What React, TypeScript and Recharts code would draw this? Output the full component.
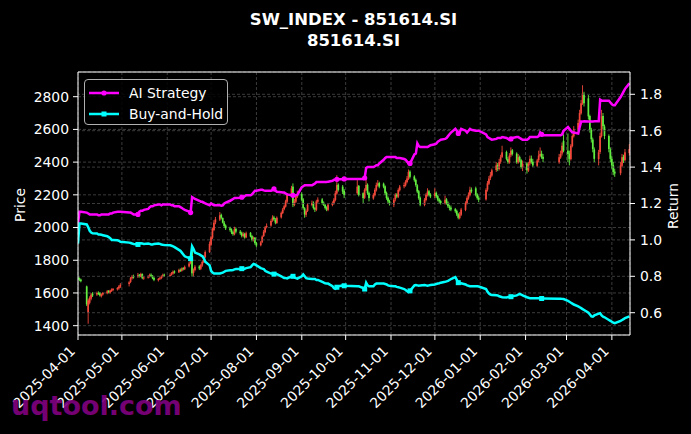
import React from 'react';
import {
  ComposedChart,
  Bar,
  Line,
  XAxis,
  YAxis,
  CartesianGrid,
  Legend,
  ReferenceLine,
} from 'recharts';

// ---------- data ----------
const tradingDays: [string, number[]][] = [
  ['2025-04', [1, 2, 3, 7, 8, 9, 10, 11, 14, 15, 16, 17, 18, 21, 22, 23, 24, 25, 28, 29, 30]],
  ['2025-05', [6, 7, 8, 9, 12, 13, 14, 15, 16, 19, 20, 21, 22, 23, 26, 27, 28, 29, 30]],
  ['2025-06', [3, 4, 5, 6, 9, 10, 11, 12, 13, 16, 17, 18, 19, 20, 23, 24, 25, 26, 27, 30]],
  ['2025-07', [1, 2, 3, 4, 7, 8, 9, 10, 11, 14, 15, 16, 17, 18, 21, 22, 23, 24, 25, 28, 29, 30, 31]],
  ['2025-08', [1, 4, 5, 6, 7, 8, 11, 12, 13, 14, 15, 18, 19, 20, 21, 22, 25, 26, 27, 28, 29]],
  ['2025-09', [1, 2, 3, 4, 5, 8, 9, 10, 11, 12, 15, 16, 17, 18, 19, 22, 23, 24, 25, 26, 29, 30]],
  ['2025-10', [9, 10, 13, 14, 15, 16, 17, 20, 21, 22, 23, 24, 27, 28, 29, 30, 31]],
  ['2025-11', [3, 4, 5, 6, 7, 10, 11, 12, 13, 14, 17, 18, 19, 20, 21, 24, 25, 26, 27, 28]],
  ['2025-12', [1, 2, 3, 4, 5, 8, 9, 10, 11, 12, 15, 16, 17, 18, 19, 22, 23, 24, 25, 26, 29, 30, 31]],
  ['2026-01', [5, 6, 7, 8, 9, 12, 13, 14, 15, 16, 19, 20, 21, 22, 23, 26, 27, 28, 29, 30]],
  ['2026-02', [2, 3, 4, 5, 6, 9, 10, 11, 12, 13, 24, 25, 26, 27]],
  ['2026-03', [2, 3, 4, 5, 6, 9, 10, 11, 12, 13, 16, 17, 18, 19, 20, 23, 24, 25, 26, 27, 30, 31]],
  ['2026-04', [1, 2, 3, 7, 8, 9, 10, 13]],
];

const monthTicks = [
  '2025-04-01', '2025-05-01', '2025-06-01', '2025-07-01', '2025-08-01', '2025-09-01', '2025-10-01',
  '2025-11-01', '2025-12-01', '2026-01-01', '2026-02-01', '2026-03-01', '2026-04-01',
];
const priceTicks = [1400, 1600, 1800, 2000, 2200, 2400, 2600, 2800];
const returnTicks = [0.6, 0.8, 1.0, 1.2, 1.4, 1.6, 1.8];

const openPrices = [
  1690, 1688, 1682, 1640, 1480, 1540, 1565, 1595, 1590, 1600, 1598, 1580, 1590, 1598, 1612, 1602, 1612, 1618, 1622, 1628, 1638,
  1655, 1668, 1690, 1702, 1698, 1712, 1700, 1716, 1688, 1696, 1700, 1712, 1706, 1692, 1678, 1686, 1690, 1700, 1712,
  1706, 1712, 1718, 1732, 1726, 1742, 1735, 1752, 1745, 1762, 1782, 1860, 1722, 1740, 1762, 1748, 1768, 1790, 1818, 1850,
  1895, 1938, 1985, 2032, 2048, 2078, 2058, 2030, 2012, 1995, 1988, 1972, 1958, 1992, 1975, 1968, 1948, 1962, 1940, 1968, 1948, 1922, 1938,
  1905, 1892, 1912, 1948, 1972, 2002, 2012, 2042, 2062, 2048, 2028, 2062, 2088, 2112, 2128, 2158, 2198, 2250, 2138, 2158, 2188,
  2205, 2172, 2118, 2078, 2102, 2138, 2152, 2118, 2108, 2158, 2172, 2152, 2138, 2122, 2108, 2138, 2148, 2168, 2208, 2262, 2250, 2225,
  2210, 2255, 2210, 2182, 2228, 2262, 2212, 2178, 2198, 2228, 2258, 2272, 2268, 2252, 2212, 2182, 2162,
  2140, 2172, 2202, 2188, 2228, 2252, 2258, 2278, 2298, 2342, 2312, 2292, 2258, 2222, 2182, 2138, 2168, 2198, 2222, 2202,
  2192, 2212, 2192, 2172, 2162, 2148, 2172, 2152, 2128, 2122, 2112, 2102, 2082, 2058, 2078, 2108, 2148, 2178, 2198, 2232, 2240, 2202, 2182,
  2172, 2232, 2268, 2302, 2318, 2352, 2382, 2358, 2402, 2432, 2462, 2418, 2398, 2442, 2472, 2452, 2398, 2432, 2412, 2368,
  2392, 2348, 2392, 2422, 2402, 2378, 2412, 2438, 2452, 2432, 2400, 2428, 2452, 2530,
  2470, 2452, 2418, 2498, 2558, 2598, 2642, 2698, 2758, 2818, 2790, 2682, 2598, 2538, 2478, 2418, 2462, 2558, 2682, 2618, 2560, 2478,
  2420, 2382, 2342, 2332, 2378, 2432, 2412, 2455,
];
const highPrices = [
  1700, 1695, 1688, 1645, 1565, 1580, 1600, 1605, 1608, 1610, 1605, 1598, 1606, 1618, 1618, 1620, 1628, 1630, 1636, 1648, 1660,
  1672, 1698, 1710, 1712, 1722, 1716, 1724, 1720, 1702, 1708, 1718, 1720, 1710, 1698, 1692, 1698, 1708, 1718, 1718,
  1720, 1728, 1738, 1738, 1748, 1750, 1756, 1758, 1768, 1790, 1820, 1890, 1750, 1770, 1770, 1778, 1800, 1830, 1860, 1915,
  1950, 2000, 2045, 2065, 2095, 2085, 2062, 2040, 2020, 2005, 1995, 1980, 2005, 2000, 1985, 1975, 1972, 1968, 1975, 1972, 1955, 1945, 1942,
  1912, 1918, 1952, 1985, 2010, 2025, 2050, 2075, 2072, 2058, 2068, 2098, 2120, 2140, 2170, 2210, 2255, 2270, 2175, 2205, 2225,
  2215, 2180, 2125, 2110, 2150, 2165, 2160, 2125, 2170, 2185, 2180, 2160, 2145, 2130, 2150, 2160, 2180, 2225, 2320, 2270, 2260, 2235,
  2290, 2260, 2215, 2240, 2290, 2270, 2220, 2210, 2240, 2275, 2290, 2280, 2275, 2258, 2220, 2190, 2170,
  2180, 2210, 2210, 2240, 2260, 2275, 2290, 2315, 2355, 2350, 2320, 2300, 2265, 2230, 2190, 2180, 2210, 2240, 2230, 2210,
  2240, 2220, 2200, 2180, 2170, 2195, 2180, 2160, 2140, 2135, 2120, 2110, 2090, 2095, 2120, 2160, 2190, 2215, 2250, 2245, 2250, 2210, 2195,
  2240, 2285, 2315, 2340, 2360, 2400, 2395, 2420, 2445, 2500, 2470, 2430, 2455, 2490, 2480, 2460, 2450, 2440, 2420, 2410,
  2400, 2400, 2440, 2440, 2420, 2420, 2470, 2490, 2470, 2450, 2450, 2470, 2520, 2570,
  2575, 2470, 2510, 2570, 2620, 2660, 2720, 2780, 2870, 2830, 2810, 2690, 2610, 2550, 2490, 2475, 2580, 2720, 2700, 2630, 2570, 2490,
  2440, 2400, 2360, 2400, 2450, 2445, 2480, 2510,
];
const lowPrices = [
  1680, 1672, 1665, 1520, 1412, 1530, 1555, 1575, 1582, 1588, 1578, 1572, 1584, 1592, 1598, 1596, 1606, 1610, 1615, 1620, 1630,
  1640, 1660, 1682, 1688, 1692, 1694, 1696, 1684, 1680, 1688, 1694, 1698, 1684, 1672, 1670, 1680, 1684, 1694, 1698,
  1700, 1706, 1712, 1718, 1722, 1728, 1730, 1738, 1740, 1756, 1775, 1700, 1700, 1732, 1740, 1740, 1760, 1782, 1812, 1845,
  1885, 1930, 1978, 2020, 2040, 2050, 2025, 2000, 1985, 1975, 1960, 1950, 1952, 1965, 1955, 1940, 1940, 1932, 1935, 1940, 1915, 1915, 1895,
  1880, 1885, 1905, 1942, 1965, 1995, 2005, 2035, 2042, 2020, 2022, 2055, 2082, 2105, 2122, 2150, 2190, 2125, 2130, 2150, 2180,
  2160, 2110, 2060, 2065, 2095, 2130, 2110, 2095, 2100, 2150, 2140, 2132, 2110, 2100, 2100, 2130, 2140, 2160, 2200, 2220, 2205, 2180,
  2200, 2190, 2150, 2175, 2222, 2200, 2160, 2170, 2190, 2220, 2250, 2240, 2240, 2200, 2170, 2145, 2135,
  2125, 2160, 2180, 2180, 2220, 2240, 2250, 2270, 2290, 2300, 2280, 2250, 2210, 2170, 2130, 2130, 2160, 2190, 2190, 2180,
  2180, 2180, 2160, 2150, 2140, 2140, 2140, 2120, 2105, 2100, 2090, 2070, 2050, 2050, 2070, 2100, 2140, 2170, 2190, 2210, 2190, 2170, 2155,
  2165, 2220, 2260, 2290, 2310, 2340, 2345, 2350, 2390, 2425, 2410, 2390, 2390, 2430, 2440, 2390, 2390, 2400, 2360, 2345,
  2330, 2340, 2380, 2390, 2370, 2370, 2400, 2430, 2420, 2400, 2390, 2420, 2440, 2460,
  2400, 2380, 2410, 2490, 2550, 2590, 2630, 2690, 2750, 2740, 2660, 2580, 2520, 2460, 2400, 2380, 2450, 2550, 2600, 2540, 2460, 2400,
  2360, 2320, 2310, 2320, 2370, 2395, 2405, 2440,
];
const closePrices = [
  1688, 1684, 1672, 1530, 1555, 1570, 1590, 1585, 1600, 1595, 1585, 1592, 1600, 1610, 1605, 1615, 1620, 1625, 1630, 1640, 1650,
  1665, 1690, 1700, 1695, 1710, 1700, 1715, 1690, 1695, 1700, 1710, 1705, 1690, 1680, 1685, 1690, 1700, 1710, 1705,
  1710, 1720, 1730, 1725, 1740, 1735, 1750, 1745, 1760, 1780, 1800, 1720, 1740, 1760, 1750, 1770, 1790, 1820, 1850, 1900,
  1940, 1990, 2030, 2050, 2075, 2060, 2030, 2010, 1995, 1985, 1970, 1960, 1990, 1975, 1965, 1950, 1960, 1940, 1965, 1945, 1925, 1935, 1905,
  1890, 1910, 1945, 1975, 2000, 2010, 2040, 2060, 2050, 2030, 2060, 2090, 2110, 2130, 2160, 2200, 2240, 2140, 2160, 2190, 2200,
  2170, 2120, 2080, 2100, 2140, 2150, 2120, 2110, 2160, 2170, 2150, 2140, 2120, 2110, 2140, 2150, 2170, 2210, 2260, 2230, 2220, 2200,
  2250, 2200, 2180, 2230, 2260, 2210, 2180, 2200, 2230, 2260, 2270, 2250, 2250, 2210, 2180, 2160, 2150,
  2170, 2200, 2190, 2230, 2250, 2260, 2280, 2300, 2340, 2310, 2290, 2260, 2220, 2180, 2140, 2170, 2200, 2220, 2200, 2190,
  2210, 2190, 2170, 2160, 2150, 2170, 2150, 2130, 2120, 2110, 2100, 2080, 2060, 2080, 2110, 2150, 2180, 2200, 2230, 2220, 2200, 2180, 2170,
  2230, 2270, 2300, 2320, 2350, 2380, 2360, 2400, 2430, 2460, 2420, 2400, 2440, 2470, 2450, 2400, 2430, 2410, 2370, 2390,
  2350, 2390, 2420, 2400, 2380, 2410, 2440, 2450, 2430, 2420, 2430, 2450, 2500, 2470,
  2450, 2420, 2500, 2560, 2600, 2640, 2700, 2760, 2820, 2760, 2680, 2600, 2540, 2480, 2420, 2460, 2560, 2680, 2620, 2560, 2480, 2420,
  2380, 2340, 2330, 2380, 2430, 2410, 2460, 2480,
];
const aiReturn = [
  1.09, 1.155, 1.155, 1.15, 1.145, 1.14, 1.14, 1.14, 1.14, 1.135, 1.135, 1.14, 1.14, 1.14, 1.14, 1.145, 1.145, 1.15, 1.155, 1.155, 1.155,
  1.15, 1.15, 1.145, 1.14, 1.14, 1.155, 1.16, 1.16, 1.165, 1.17, 1.18, 1.185, 1.185, 1.19, 1.195, 1.195, 1.19, 1.195, 1.195,
  1.195, 1.19, 1.19, 1.185, 1.185, 1.18, 1.175, 1.17, 1.165, 1.155, 1.15, 1.235, 1.23, 1.225, 1.215, 1.21, 1.21, 1.205, 1.2, 1.19,
  1.2, 1.195, 1.19, 1.19, 1.19, 1.188, 1.19, 1.2, 1.205, 1.215, 1.22, 1.225, 1.23, 1.23, 1.232, 1.235, 1.235, 1.24, 1.245, 1.245, 1.25, 1.26, 1.27,
  1.27, 1.275, 1.275, 1.272, 1.27, 1.27, 1.27, 1.275, 1.28, 1.27, 1.265, 1.262, 1.26, 1.26, 1.255, 1.25, 1.245, 1.245, 1.245, 1.245, 1.248,
  1.29, 1.295, 1.3, 1.3, 1.3, 1.3, 1.305, 1.31, 1.318, 1.318, 1.318, 1.318, 1.318, 1.318, 1.32, 1.325, 1.33, 1.33, 1.333, 1.333, 1.333, 1.335,
  1.335, 1.335, 1.335, 1.34, 1.395, 1.4, 1.4, 1.4, 1.405, 1.41, 1.41, 1.42, 1.44, 1.45, 1.455, 1.455, 1.455,
  1.455, 1.455, 1.45, 1.45, 1.45, 1.445, 1.44, 1.43, 1.42, 1.42, 1.47, 1.475, 1.53, 1.515, 1.51, 1.51, 1.51, 1.51, 1.515, 1.52,
  1.525, 1.53, 1.54, 1.545, 1.55, 1.555, 1.56, 1.57, 1.58, 1.59, 1.61, 1.6, 1.585, 1.59, 1.61, 1.6, 1.59, 1.6, 1.61, 1.605, 1.6, 1.6, 1.6,
  1.58, 1.565, 1.56, 1.555, 1.55, 1.555, 1.56, 1.56, 1.56, 1.565, 1.56, 1.555, 1.55, 1.555, 1.56, 1.565, 1.565, 1.56, 1.555, 1.55,
  1.55, 1.555, 1.565, 1.565, 1.565, 1.565, 1.57, 1.59, 1.58, 1.575, 1.575, 1.575, 1.58, 1.6,
  1.62, 1.61, 1.6, 1.59, 1.59, 1.585, 1.62, 1.65, 1.65, 1.652, 1.65, 1.65, 1.65, 1.65, 1.652, 1.652, 1.77, 1.765, 1.765, 1.765, 1.765, 1.755,
  1.745, 1.74, 1.74, 1.785, 1.8, 1.815, 1.83, 1.86,
];
const bhReturn = [
  0.98, 1.09, 1.09, 1.085, 1.07, 1.05, 1.04, 1.036, 1.035, 1.03, 1.03, 1.028, 1.026, 1.02, 1.015, 1.01, 1.0, 1.0, 0.998, 0.995, 0.99,
  0.985, 0.983, 0.98, 0.978, 0.975, 0.98, 0.982, 0.98, 0.978, 0.98, 0.978, 0.975, 0.975, 0.978, 0.98, 0.978, 0.975, 0.973, 0.972,
  0.97, 0.968, 0.965, 0.96, 0.945, 0.94, 0.93, 0.92, 0.91, 0.9, 0.897, 0.965, 0.95, 0.93, 0.92, 0.915, 0.91, 0.9, 0.88, 0.86,
  0.83, 0.82, 0.815, 0.815, 0.815, 0.818, 0.82, 0.825, 0.83, 0.833, 0.833, 0.835, 0.838, 0.84, 0.84, 0.842, 0.842, 0.842, 0.845, 0.85, 0.86, 0.868, 0.865,
  0.86, 0.845, 0.842, 0.84, 0.83, 0.825, 0.815, 0.815, 0.812, 0.815, 0.812, 0.8, 0.795, 0.79, 0.79, 0.788, 0.8, 0.8, 0.795, 0.79, 0.787,
  0.8, 0.81, 0.8, 0.79, 0.788, 0.785, 0.785, 0.785, 0.78, 0.78, 0.77, 0.765, 0.762, 0.76, 0.76, 0.745, 0.735, 0.732, 0.74, 0.745, 0.75, 0.748,
  0.745, 0.745, 0.735, 0.73, 0.765, 0.75, 0.745, 0.745, 0.755, 0.76, 0.76, 0.76, 0.76, 0.758, 0.755, 0.75, 0.748,
  0.745, 0.745, 0.742, 0.74, 0.738, 0.73, 0.725, 0.718, 0.714, 0.72, 0.75, 0.752, 0.75, 0.748, 0.75, 0.752, 0.75, 0.748, 0.75, 0.752,
  0.755, 0.758, 0.76, 0.762, 0.765, 0.77, 0.772, 0.775, 0.78, 0.785, 0.795, 0.78, 0.765, 0.76, 0.762, 0.755, 0.75, 0.748, 0.745, 0.745, 0.745, 0.745, 0.744,
  0.73, 0.715, 0.705, 0.7, 0.697, 0.696, 0.695, 0.69, 0.688, 0.685, 0.684, 0.686, 0.686, 0.688, 0.69, 0.695, 0.7, 0.703, 0.7, 0.695,
  0.685, 0.682, 0.68, 0.68, 0.68, 0.68, 0.68, 0.678, 0.678, 0.678, 0.677, 0.677, 0.676, 0.675,
  0.665, 0.66, 0.655, 0.65, 0.645, 0.635, 0.63, 0.625, 0.62, 0.615, 0.6, 0.59, 0.58, 0.578, 0.585, 0.595, 0.597, 0.585, 0.578, 0.575, 0.56, 0.555,
  0.55, 0.545, 0.542, 0.555, 0.56, 0.565, 0.57, 0.58,
];
const tradeDates = [
  '2025-05-12', '2025-06-17', '2025-07-22', '2025-08-13', '2025-08-26', '2025-09-25',
  '2025-09-30', '2025-10-14', '2025-11-14', '2025-12-17', '2026-01-22', '2026-02-12',
];

// ---------- helpers ----------
const START = Date.UTC(2025, 3, 1);
const dayNum = (s: string) => (Date.parse(s + 'T00:00:00Z') - START) / 86400000;
const pad = (d: number) => (d < 10 ? '0' + d : String(d));

const dates = tradingDays.flatMap(([m, ds]) => ds.map((d) => `${m}-${pad(d)}`));
const count = Math.min(
  dates.length, openPrices.length, highPrices.length, lowPrices.length,
  closePrices.length, aiReturn.length, bhReturn.length,
);
const tradeSet = new Set(tradeDates);

const data = dates.slice(0, count).map((date, i) => {
  const o = openPrices[i];
  const c = closePrices[i];
  const h = Math.max(highPrices[i], o, c);
  const l = Math.min(lowPrices[i], o, c);
  return { t: dayNum(date), date, open: o, high: h, low: l, close: c, ai: aiReturn[i], bh: bhReturn[i] };
});

const monthTickNums = monthTicks.map(dayNum);
const tickLabelByNum: Record<string, string> = {};
monthTicks.forEach((s) => {
  tickLabelByNum[String(dayNum(s))] = s;
});

const FONT = "'DejaVu Sans', sans-serif";
const UP = '#f2483a';
const DOWN = '#62ee40';
const AI_COLOR = '#ff00ff';
const BH_COLOR = '#00ffff';

const Candle = (props: any) => {
  const { x, y, width, height, payload } = props;
  if (!payload || !isFinite(x) || !isFinite(y) || !isFinite(height)) return <g />;
  const { open, close, high, low } = payload;
  const top = Math.min(y, y + height);
  const h = Math.abs(height);
  const span = high - low || 1;
  const py = (v: number) => top + ((high - v) / span) * h;
  const cx = x + width / 2;
  const color = close >= open ? UP : DOWN;
  const bTop = py(Math.max(open, close));
  const bBot = py(Math.min(open, close));
  return (
    <g>
      <line x1={cx} x2={cx} y1={top} y2={top + h} stroke={color} strokeWidth={0.9} />
      <rect x={cx - 0.85} y={bTop} width={1.7} height={Math.max(bBot - bTop, 1)} fill={color} />
    </g>
  );
};

const aiDot = (props: any) => {
  const { cx, cy, payload, index } = props;
  if (!payload || !tradeSet.has(payload.date)) return <g key={`a${index}`} />;
  return <circle key={`a${index}`} cx={cx} cy={cy} r={2.6} fill={AI_COLOR} />;
};
const bhDot = (props: any) => {
  const { cx, cy, payload, index } = props;
  if (!payload || !tradeSet.has(payload.date)) return <g key={`b${index}`} />;
  return <rect key={`b${index}`} x={cx - 2.5} y={cy - 2.5} width={5} height={5} fill={BH_COLOR} />;
};

const DateTick = (props: any) => {
  const { x, y, payload } = props;
  const label = tickLabelByNum[String(payload.value)] ?? '';
  const tx = x - 2;
  const ty = y + 10;
  return (
    <text
      x={tx}
      y={ty}
      transform={`rotate(-45, ${tx}, ${ty})`}
      textAnchor="end"
      fill="#ffffff"
      fontSize={13.9}
      fontFamily={FONT}
    >
      {label}
    </text>
  );
};

const LegendBox = (props: any) => {
  const items = (props.payload || []).filter((p: any) => p.value);
  return (
    <div
      style={{
        width: 144,
        height: 46,
        border: '1px solid #b0b0b0',
        borderRadius: 4,
        background: 'rgba(0,0,0,0.85)',
        boxSizing: 'border-box',
        fontFamily: FONT,
        fontSize: 13.9,
        color: '#fff',
        paddingTop: 3,
      }}
    >
      {items.map((it: any, i: number) => (
        <div key={i} style={{ display: 'flex', alignItems: 'center', height: 20.5 }}>
          <svg width={44} height={12} style={{ flex: 'none' }}>
            <line x1={4} x2={34} y1={6} y2={6} stroke={it.color} strokeWidth={2.5} />
            {i === 0 ? (
              <circle cx={19} cy={6} r={2.6} fill={it.color} />
            ) : (
              <rect x={16.5} y={3.5} width={5} height={5} fill={it.color} />
            )}
          </svg>
          <span style={{ whiteSpace: 'nowrap' }}>{it.value}</span>
        </div>
      ))}
    </div>
  );
};

const axisLabel = (text: string, x: number, y: number) => () => (
  <text
    x={x}
    y={y}
    transform={`rotate(-90, ${x}, ${y})`}
    textAnchor="middle"
    dominantBaseline="central"
    fill="#ffffff"
    fontSize={13.9}
    fontFamily={FONT}
  >
    {text}
  </text>
);

export default function App() {
  return (
    <div style={{ position: 'absolute', left: 0, top: 0, width: 691, height: 434, background: '#000', overflow: 'hidden' }}>
      <ComposedChart
        width={691}
        height={434}
        data={data}
        margin={{ top: 72, right: 0, bottom: 0, left: 0 }}
        style={{ background: '#000' }}
      >
        <CartesianGrid yAxisId="left" stroke="#4a4a4a" strokeWidth={0.8} strokeDasharray="3 2" />
        {returnTicks.map((v) => (
          <ReferenceLine key={v} yAxisId="right" y={v} stroke="#4a4a4a" strokeWidth={0.8} strokeDasharray="3 2" />
        ))}
        <XAxis
          dataKey="t"
          type="number"
          domain={[0, 377.4]}
          ticks={monthTickNums}
          allowDataOverflow
          height={99}
          tick={<DateTick />}
          tickSize={5}
          tickMargin={2}
          interval={0}
          axisLine={{ stroke: '#fff', strokeWidth: 1 }}
          tickLine={{ stroke: '#fff', strokeWidth: 1 }}
        />
        <YAxis
          yAxisId="left"
          orientation="left"
          type="number"
          domain={[1343, 2951]}
          ticks={priceTicks}
          allowDataOverflow
          width={78}
          tickSize={5}
          tickMargin={4}
          tick={{ fill: '#fff', fontSize: 13.9, fontFamily: FONT }}
          axisLine={{ stroke: '#fff', strokeWidth: 1 }}
          tickLine={{ stroke: '#fff', strokeWidth: 1 }}
          label={{ content: axisLabel('Price', 20, 205) }}
        />
        <YAxis
          yAxisId="right"
          orientation="right"
          type="number"
          domain={[0.4775, 1.9225]}
          ticks={returnTicks}
          allowDataOverflow
          width={61}
          tickSize={5}
          tickMargin={5}
          tickFormatter={(v: number) => v.toFixed(1)}
          tick={{ fill: '#fff', fontSize: 13.9, fontFamily: FONT }}
          axisLine={{ stroke: '#fff', strokeWidth: 1 }}
          tickLine={{ stroke: '#fff', strokeWidth: 1 }}
          label={{ content: axisLabel('Return', 673, 206) }}
        />
        <ReferenceLine yAxisId="left" y={2951} stroke="#fff" strokeWidth={1.2} />
        <Bar
          yAxisId="left"
          dataKey={(d: any) => [d.low, d.high]}
          barSize={1.7}
          shape={<Candle />}
          isAnimationActive={false}
          legendType="none"
        />
        <Line
          yAxisId="right"
          type="linear"
          dataKey="ai"
          name="AI Strategy"
          stroke={AI_COLOR}
          strokeWidth={2.5}
          dot={aiDot}
          activeDot={false}
          isAnimationActive={false}
        />
        <Line
          yAxisId="right"
          type="linear"
          dataKey="bh"
          name="Buy-and-Hold"
          stroke={BH_COLOR}
          strokeWidth={2.5}
          dot={bhDot}
          activeDot={false}
          isAnimationActive={false}
        />
        <Legend
          layout="vertical"
          align="center"
          verticalAlign="middle"
          wrapperStyle={{ left: 84, top: 79, width: 144, height: 46 }}
          content={<LegendBox />}
        />
      </ComposedChart>
      <svg
        width={691}
        height={434}
        style={{ position: 'absolute', left: 0, top: 0, pointerEvents: 'none' }}
      >
        <text x={353.5} y={25} textAnchor="middle" fill="#fff" fontSize={16.5} fontWeight="bold" fontFamily={FONT}>
          SW_INDEX - 851614.SI
        </text>
        <text x={353.5} y={46} textAnchor="middle" fill="#fff" fontSize={16.5} fontWeight="bold" fontFamily={FONT}>
          851614.SI
        </text>
        <text x={11} y={415} fill="#800080" fillOpacity={0.92} fontSize={27} fontWeight="bold" fontFamily={FONT}>
          uqtool.com
        </text>
      </svg>
    </div>
  );
}
